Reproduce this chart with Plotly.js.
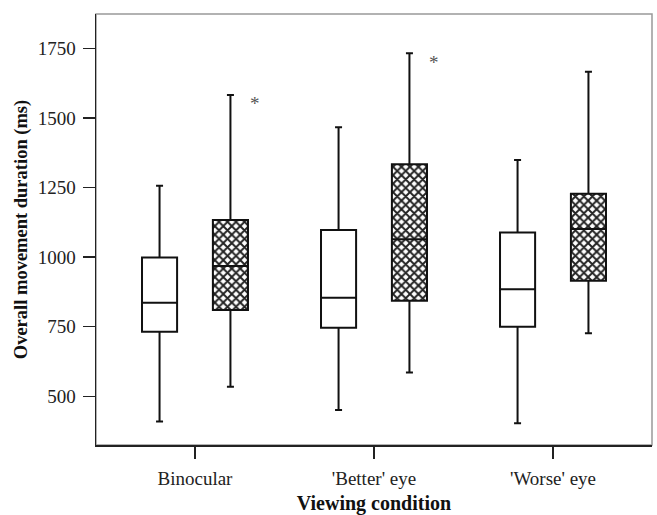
<!DOCTYPE html>
<html>
<head>
<meta charset="utf-8">
<script src="https://cdn.plot.ly/plotly-3.0.1.min.js"></script>
<style>html,body{margin:0;padding:0;background:#fff;}#chart{width:657px;height:515px;}</style>
</head>
<body>
<div id="chart"></div>
<script>
// Categories (x axis)
const categories = ["Binocular", "'Better' eye", "'Worse' eye"];

// Series 1: plain (white) boxes
const plainLower  = [409, 451, 403];
const plainQ1     = [732, 746, 750];
const plainMedian = [836, 854, 884];
const plainQ3     = [998, 1097, 1088];
const plainUpper  = [1256, 1466, 1349];

// Series 2: cross-hatched boxes
const hatchLower  = [534, 585, 726];
const hatchQ1     = [810, 843, 915];
const hatchMedian = [968, 1064, 1101];
const hatchQ3     = [1133, 1333, 1227];
const hatchUpper  = [1582, 1732, 1666];

// Asterisk markers beside hatched boxes (value, or null if none)
const hatchStar = [1550, 1700, null];

const yTicks = [500, 750, 1000, 1250, 1500, 1750];

// layout helpers
const OFF = 0.198, W = 0.196;
const idx = categories.map((c, i) => i);
const xPlain = idx.map(i => i - OFF);
const xHatch = idx.map(i => i + OFF);

const font = "Liberation Serif, Times New Roman, serif";
const boxLine = {color: '#111', width: 2};

const traces = [
  {
    type: 'bar', x: xHatch, base: hatchQ1,
    y: hatchQ3.map((v, i) => v - hatchQ1[i]),
    width: W,
    marker: {color: '#fff', line: {width: 0},
      pattern: {shape: 'x', size: 6, solidity: 0.55, fgcolor: '#222', bgcolor: '#fff'}},
    hoverinfo: 'skip', showlegend: false
  },
  {
    type: 'box', x: xPlain, q1: plainQ1, median: plainMedian, q3: plainQ3,
    lowerfence: plainLower, upperfence: plainUpper,
    width: W, whiskerwidth: 0.2, boxpoints: false,
    fillcolor: '#fff', line: boxLine, showlegend: false
  },
  {
    type: 'box', x: xHatch, q1: hatchQ1, median: hatchMedian, q3: hatchQ3,
    lowerfence: hatchLower, upperfence: hatchUpper,
    width: W, whiskerwidth: 0.2, boxpoints: false,
    fillcolor: 'rgba(0,0,0,0)', line: boxLine, showlegend: false
  }
];

const annotations = [];
hatchStar.forEach((v, i) => {
  if (v !== null) annotations.push({
    x: xHatch[i], y: v, xref: 'x', yref: 'y', text: '*', showarrow: false,
    xshift: 25, font: {family: font, size: 19, color: '#555'}
  });
});

const layout = {
  width: 657, height: 515,
  margin: {l: 96, r: 5, t: 14, b: 70},
  paper_bgcolor: '#fff', plot_bgcolor: '#fff',
  font: {family: font, color: '#222', size: 18},
  showlegend: false,
  xaxis: {
    range: [-0.553, 2.553], tickvals: idx, ticktext: categories,
    showgrid: false, zeroline: false, showline: true, linecolor: '#222', linewidth: 1.5,
    ticks: 'outside', ticklen: 12, tickwidth: 1.5, tickcolor: '#222',
    ticklabelstandoff: 4,
    tickfont: {family: font, size: 19, color: '#222'},
    title: {text: '<b>Viewing condition</b>', font: {family: font, size: 20, color: '#111'}, standoff: 18}
  },
  yaxis: {
    range: [325, 1873], tickvals: yTicks,
    showgrid: false, zeroline: false, showline: true, linecolor: '#222', linewidth: 1.5,
    ticks: 'outside', ticklen: 12, tickwidth: 1.5, tickcolor: '#222',
    ticklabelstandoff: 3,
    tickfont: {family: font, size: 19, color: '#222'},
    title: {text: '<b>Overall movement duration (ms)</b>', font: {family: font, size: 18.5, color: '#111'}, standoff: 5}
  },
  shapes: [{type: 'rect', xref: 'paper', yref: 'paper', x0: 0, x1: 1, y0: 0, y1: 1,
    line: {color: '#999', width: 1.5}, layer: 'below'}],
  annotations: annotations
};

Plotly.newPlot('chart', traces, layout, {displayModeBar: false, staticPlot: true});
</script>
</body>
</html>
